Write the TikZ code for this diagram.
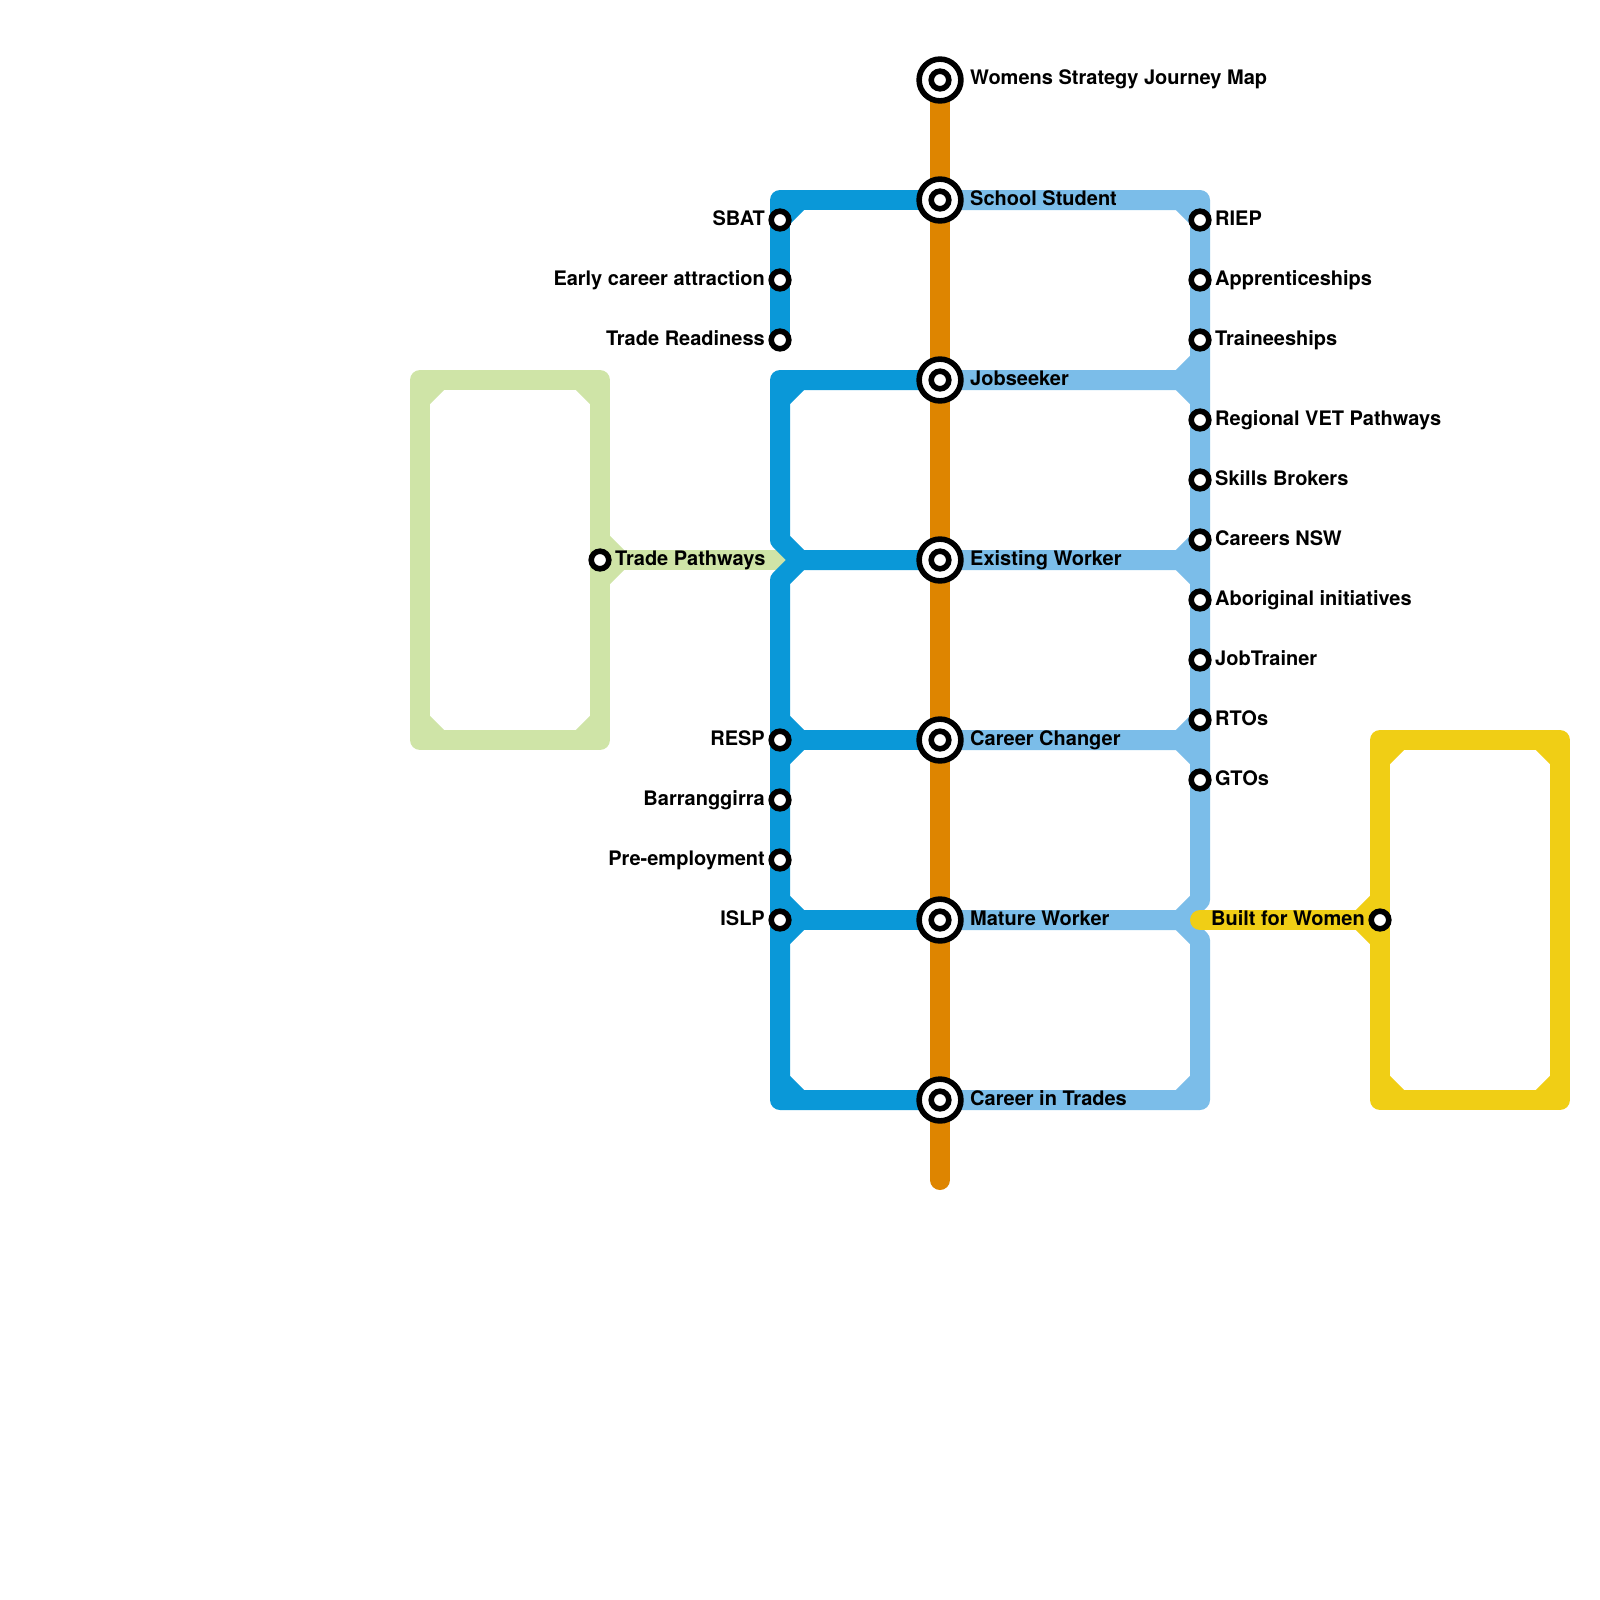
\documentclass[tikz,border=0pt]{standalone}
\usepackage{fontspec}
\setmainfont{TeX Gyre Heros}
\usetikzlibrary{backgrounds}
\definecolor{cblue}{HTML}{0A98D8}
\definecolor{clight}{HTML}{7BBDE9}
\definecolor{corange}{HTML}{DE8500}
\definecolor{cyellow}{HTML}{F0CE15}
\definecolor{cgreen}{HTML}{CFE4A7}
\tikzset{
  stn/.style={circle,draw=black,fill=white,line width=5.6pt,inner sep=0pt,minimum size=17.6pt},
  hub/.style={circle,draw=black,fill=white,line width=5.6pt,inner sep=0pt,minimum size=41.8pt},
  lineway/.style={line width=20pt,line join=round,line cap=butt},
  lblr/.style={anchor=base west,inner sep=0pt,font=\fontsize{20pt}{22pt}\selectfont\bfseries},
  lbll/.style={anchor=base east,inner sep=0pt,font=\fontsize{20pt}{22pt}\selectfont\bfseries},
}
\begin{document}
\begin{tikzpicture}[x=1pt,y=-1pt]
\useasboundingbox (0,0) rectangle (1600,1600);
% hubs
\node[hub] (top) at (940,80) {}; \node[stn] (topi) at (940,80) {};
\node[hub] (school) at (940,200) {}; \node[stn] (schooli) at (940,200) {};
\node[hub] (job) at (940,380) {}; \node[stn] (jobi) at (940,380) {};
\node[hub] (exist) at (940,560) {}; \node[stn] (existi) at (940,560) {};
\node[hub] (change) at (940,740) {}; \node[stn] (changei) at (940,740) {};
\node[hub] (mature) at (940,920) {}; \node[stn] (maturei) at (940,920) {};
\node[hub] (trades) at (940,1100) {}; \node[stn] (tradesi) at (940,1100) {};
% left stations
\node[stn] (sbat) at (780,220) {};
\node[stn] (early) at (780,280) {};
\node[stn] (ready) at (780,340) {};
\node[stn] (resp) at (780,740) {};
\node[stn] (barr) at (780,800) {};
\node[stn] (pre) at (780,860) {};
\node[stn] (islp) at (780,920) {};
% right stations
\node[stn] (riep) at (1200,220) {};
\node[stn] (appr) at (1200,280) {};
\node[stn] (train) at (1200,340) {};
\node[stn] (vet) at (1200,420) {};
\node[stn] (skills) at (1200,480) {};
\node[stn] (careers) at (1200,540) {};
\node[stn] (abor) at (1200,600) {};
\node[stn] (jobt) at (1200,660) {};
\node[stn] (rtos) at (1200,720) {};
\node[stn] (gtos) at (1200,780) {};
% branch stations
\node[stn] (tradep) at (600,560) {};
\node[stn] (built) at (1380,920) {};
% labels
\node[lblr] (topL) at (970,85) {Womens Strategy Journey Map};
\node[lblr] (schoolL) at (970,205) {School Student};
\node[lblr] (jobL) at (970,385) {Jobseeker};
\node[lblr] (existL) at (970,565) {Existing Worker};
\node[lblr] (changeL) at (970,745) {Career Changer};
\node[lblr] (matureL) at (970,925) {Mature Worker};
\node[lblr] (tradesL) at (970,1105) {Career in Trades};
\node[lbll] (sbatL) at (765,225) {SBAT};
\node[lbll] (earlyL) at (765,285) {Early career attraction};
\node[lbll] (readyL) at (765,345) {Trade Readiness};
\node[lbll] (respL) at (765,745) {RESP};
\node[lbll] (barrL) at (765,805) {Barranggirra};
\node[lbll] (preL) at (765,865) {Pre-employment};
\node[lbll] (islpL) at (765,925) {ISLP};
\node[lblr] (riepL) at (1215,225) {RIEP};
\node[lblr] (apprL) at (1215,285) {Apprenticeships};
\node[lblr] (trainL) at (1215,345) {Traineeships};
\node[lblr] (vetL) at (1215,425) {Regional VET Pathways};
\node[lblr] (skillsL) at (1215,485) {Skills Brokers};
\node[lblr] (careersL) at (1215,545) {Careers NSW};
\node[lblr] (aborL) at (1215,605) {Aboriginal initiatives};
\node[lblr] (jobtL) at (1215,665) {JobTrainer};
\node[lblr] (rtosL) at (1215,725) {RTOs};
\node[lblr] (gtosL) at (1215,785) {GTOs};
\node[lblr] (tradepL) at (615,565) {Trade Pathways};
\node[lbll] (builtL) at (1365,925) {Built for Women};
% free coordinates: blue
\coordinate (bc1) at (780,200); \coordinate (bd1a) at (800,200); \coordinate (bd1b) at (780,220);
\coordinate (bc2) at (780,380); \coordinate (bd2a) at (800,380); \coordinate (bd2b) at (780,400);
\coordinate (bk3a) at (780,540); \coordinate (bj3) at (800,560); \coordinate (bk3b) at (780,580);
\coordinate (bk4a) at (780,720); \coordinate (bj4) at (800,740); \coordinate (bk4b) at (780,760);
\coordinate (bk5a) at (780,900); \coordinate (bj5) at (800,920); \coordinate (bk5b) at (780,940);
\coordinate (bc6) at (780,1100); \coordinate (bd6a) at (780,1080); \coordinate (bd6b) at (800,1100);
% light blue
\coordinate (lc1) at (1200,200); \coordinate (ld1a) at (1180,200); \coordinate (ld1b) at (1200,220);
\coordinate (lk2a) at (1200,360); \coordinate (lj2) at (1180,380); \coordinate (lk2b) at (1200,400);
\coordinate (lk3a) at (1200,540); \coordinate (lj3) at (1180,560); \coordinate (lk3b) at (1200,580);
\coordinate (lk4a) at (1200,720); \coordinate (lj4) at (1180,740); \coordinate (lk4b) at (1200,760);
\coordinate (lk5a) at (1200,900); \coordinate (lj5) at (1180,920); \coordinate (lk5b) at (1200,940);
\coordinate (lc6) at (1200,1100); \coordinate (ld6a) at (1180,1100); \coordinate (ld6b) at (1200,1080);
% green
\coordinate (ga) at (600,380); \coordinate (gb) at (420,380); \coordinate (gc) at (420,740); \coordinate (gd) at (600,740);
\coordinate (gk1) at (600,540); \coordinate (gk2) at (600,580); \coordinate (gj) at (620,560); \coordinate (gend) at (790,560);
\coordinate (ga1) at (580,380); \coordinate (ga2) at (600,400);
\coordinate (gb1) at (440,380); \coordinate (gb2) at (420,400);
\coordinate (gc1) at (420,720); \coordinate (gc2) at (440,740);
\coordinate (gd1) at (580,740); \coordinate (gd2) at (600,720);
% yellow
\coordinate (ya) at (1380,740); \coordinate (yb) at (1560,740); \coordinate (yc) at (1560,1100); \coordinate (yd) at (1380,1100);
\coordinate (yk1) at (1380,900); \coordinate (yk2) at (1380,940); \coordinate (yj) at (1360,920); \coordinate (yend) at (1200,920);
\coordinate (ya1) at (1400,740); \coordinate (ya2) at (1380,760);
\coordinate (yb1) at (1540,740); \coordinate (yb2) at (1560,760);
\coordinate (yc1) at (1560,1080); \coordinate (yc2) at (1540,1100);
\coordinate (yd1) at (1400,1100); \coordinate (yd2) at (1380,1080);
% orange end
\coordinate (oend) at (940,1180);
\begin{scope}[on background layer]
  % green
  \draw[lineway,cgreen] (gb) -- (ga) -- (gd) -- (gc) -- cycle;
  \draw[lineway,cgreen] (gk1) -- (gj) -- (gk2);
  \draw[lineway,cgreen] (tradep.center) -- (gend);
  \foreach \p/\q in {ga1/ga2,gb1/gb2,gc1/gc2,gd1/gd2} \draw[lineway,cgreen] (\p) -- (\q);
  % light blue
  \draw[lineway,clight] (school.center) -- (lc1) -- (lk5a) -- (lj5) -- (mature.center);
  \draw[lineway,clight] (ld1a) -- (ld1b);
  \draw[lineway,clight] (job.center) -- (lj2) -- (lk2a);
  \draw[lineway,clight] (lj2) -- (lk2b);
  \draw[lineway,clight] (exist.center) -- (lj3) -- (lk3a);
  \draw[lineway,clight] (lj3) -- (lk3b);
  \draw[lineway,clight] (change.center) -- (lj4) -- (lk4a);
  \draw[lineway,clight] (lj4) -- (lk4b);
  \draw[lineway,clight] (lj5) -- (lk5b) -- (lc6) -- (trades.center);
  \draw[lineway,clight] (ld6a) -- (ld6b);
  % blue
  \draw[lineway,cblue] (school.center) -- (bc1) -- (ready.center);
  \draw[lineway,cblue] (bd1a) -- (bd1b);
  \draw[lineway,cblue] (job.center) -- (bc2) -- (bk3a) -- (bj3) -- (exist.center);
  \draw[lineway,cblue] (bd2a) -- (bd2b);
  \draw[lineway,cblue] (bj3) -- (bk3b) -- (bc6) -- (trades.center);
  \draw[lineway,cblue] (bk4a) -- (bj4) -- (bk4b);
  \draw[lineway,cblue] (bj4) -- (change.center);
  \draw[lineway,cblue] (bk5a) -- (bj5) -- (bk5b);
  \draw[lineway,cblue] (bj5) -- (mature.center);
  \draw[lineway,cblue] (bd6a) -- (bd6b);
  % yellow
  \draw[lineway,cyellow] (ya) -- (yb) -- (yc) -- (yd) -- cycle;
  \draw[lineway,cyellow] (yk1) -- (yj) -- (yk2);
  \draw[lineway,cyellow,line cap=round] (yend) -- (yj);
  \draw[lineway,cyellow] (yj) -- (built.center);
  \foreach \p/\q in {ya1/ya2,yb1/yb2,yc1/yc2,yd1/yd2} \draw[lineway,cyellow] (\p) -- (\q);
  % orange
  \draw[lineway,corange,line cap=round] (top.center) -- (oend);
\end{scope}
\end{tikzpicture}
\end{document}
